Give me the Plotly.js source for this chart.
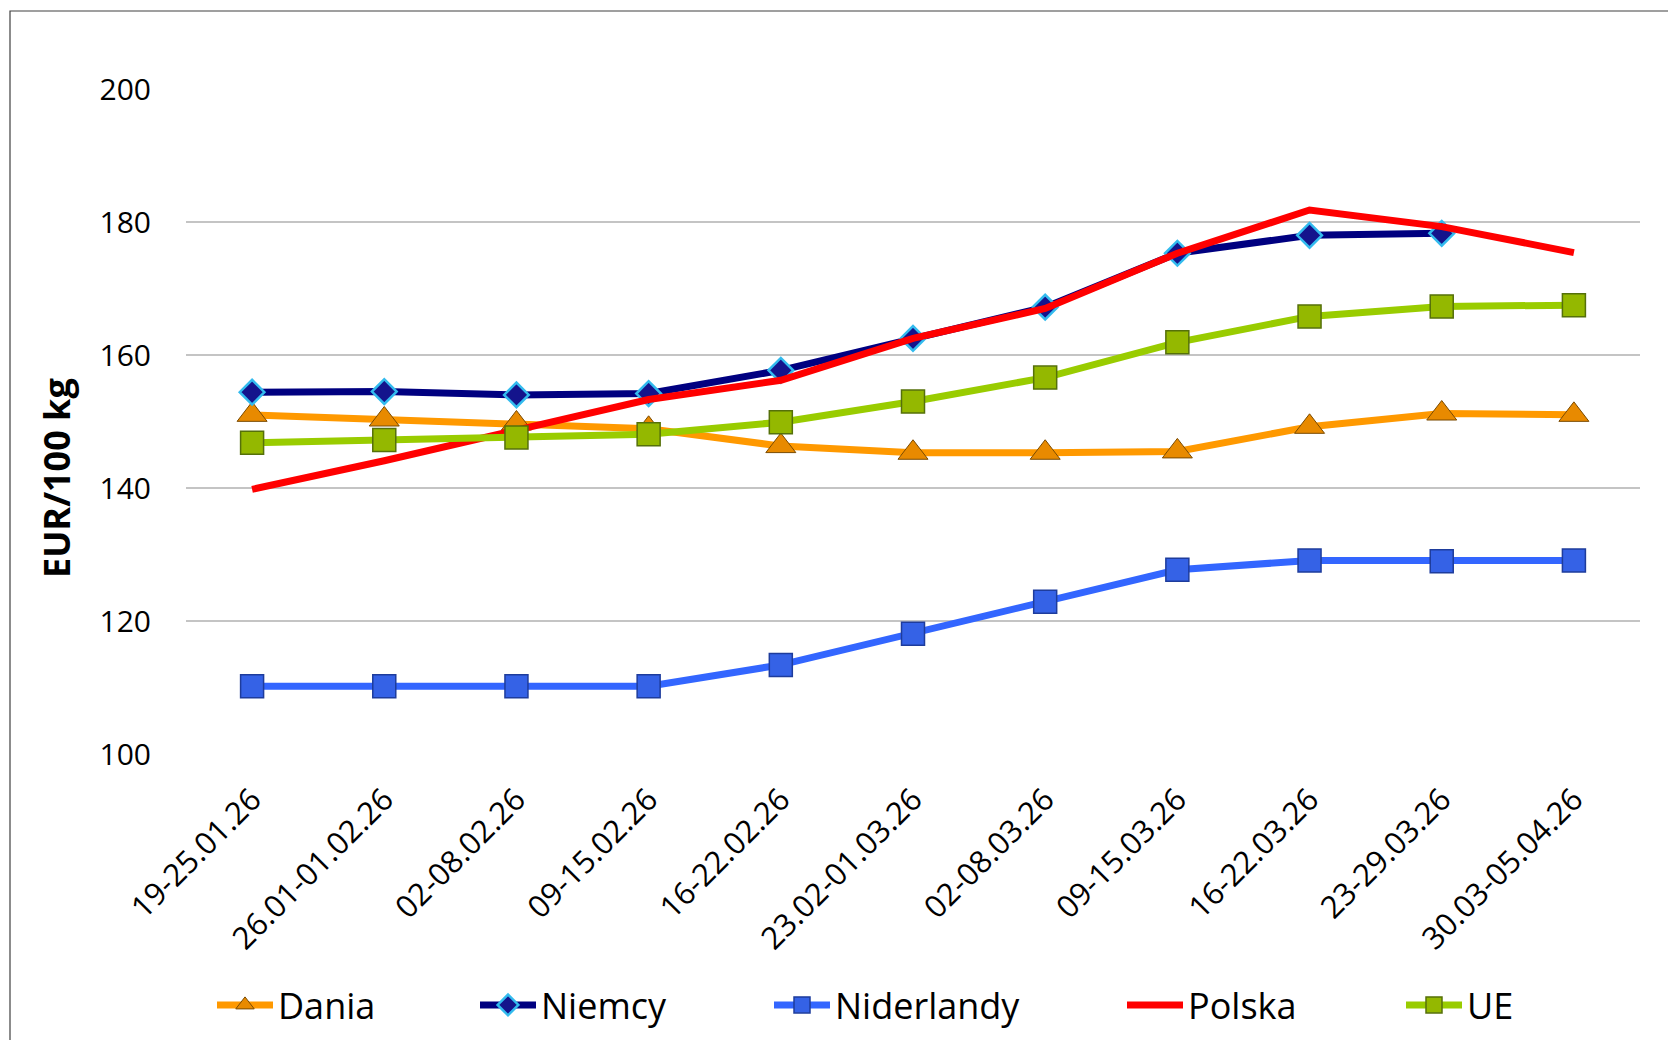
<!DOCTYPE html>
<html>
<head>
<meta charset="utf-8">
<script src="https://cdn.plot.ly/plotly-3.0.1.min.js"></script>
<style>
  html, body { margin: 0; padding: 0; background: #ffffff; }
  #chart { width: 1668px; height: 1040px; }
</style>
</head>
<body>
<div id="chart"></div>
<script>
const weeks = ["19-25.01.26", "26.01-01.02.26", "02-08.02.26", "09-15.02.26", "16-22.02.26",
               "23.02-01.03.26", "02-08.03.26", "09-15.03.26", "16-22.03.26", "23-29.03.26", "30.03-05.04.26"];
const dania      = [151.0, 150.3, 149.7, 148.9, 146.3, 145.3, 145.3, 145.5, 149.2, 151.2, 151.0];
const niemcy     = [154.4, 154.5, 154.0, 154.2, 157.7, 162.5, 167.2, 175.3, 178.0, 178.3, null];
const niderlandy = [110.2, 110.2, 110.2, 110.2, 113.4, 118.1, 122.9, 127.7, 129.1, 129.0, 129.1];
const polska     = [139.8, 144.1, 148.7, 153.3, 156.2, 162.5, 167.0, 175.3, 181.8, 179.3, 175.4];
const ue         = [146.8, 147.2, 147.6, 148.1, 149.9, 153.0, 156.6, 161.9, 165.8, 167.3, 167.5];
const yTicks = [100, 120, 140, 160, 180, 200];
const yTitle = "EUR/100 kg";

const FONT = "'Open Sans', 'Noto Sans', sans-serif";

const traces = [
  { name: "Dania", y: dania, legend: "legend",
    line: { color: "#FF9900", width: 7 },
    marker: { symbol: "triangle-up", size: 26, color: "#E88A00", line: { color: "#7A4A00", width: 1 } } },
  { name: "Niemcy", y: niemcy, legend: "legend2",
    line: { color: "#000080", width: 7 },
    marker: { symbol: "diamond", size: 19, color: "#14148C", line: { color: "#33BBEE", width: 2.5 } } },
  { name: "Niderlandy", y: niderlandy, legend: "legend3",
    line: { color: "#3366FF", width: 7 },
    marker: { symbol: "square", size: 23, color: "#3562E6", line: { color: "#1E3C9C", width: 1.5 } } },
  { name: "Polska", y: polska, legend: "legend4",
    line: { color: "#FF0000", width: 7 },
    marker: { size: 1, opacity: 0 }, mode: "lines" },
  { name: "UE", y: ue, legend: "legend5",
    line: { color: "#99CC00", width: 7 },
    marker: { symbol: "square", size: 23, color: "#94B800", line: { color: "#55700A", width: 1.5 } } }
].map(t => Object.assign({
  type: "scatter", mode: "lines+markers", x: weeks, connectgaps: false, hoverinfo: "skip"
}, t));

// pixel helpers for plot area: left 186, right 1640, top 89, bottom 754
const L = 186, R = 1640, T = 89, B = 754;
const px = v => (v - L) / (R - L);
const py = v => (B - v) / (B - T);

function leg(xpix) {
  return {
    orientation: "h", x: px(xpix), y: py(1005), xanchor: "left", yanchor: "middle",
    font: { family: FONT, size: 36, color: "#000000" },
    bgcolor: "rgba(0,0,0,0)", borderwidth: 0, itemwidth: 56, itemclick: false, itemdoubleclick: false
  };
}

const layout = {
  width: 1668, height: 1040,
  margin: { l: L, r: 1668 - R, t: T, b: 1040 - B, pad: 0, autoexpand: false },
  paper_bgcolor: "#ffffff", plot_bgcolor: "#ffffff",
  font: { family: FONT, color: "#000000" },
  showlegend: true,
  legend: leg(212),
  legend2: leg(475),
  legend3: leg(769),
  legend4: leg(1122),
  legend5: leg(1401),
  xaxis: {
    type: "category", range: [-0.5, 10.5], showgrid: false, zeroline: false, showline: false,
    ticks: "", tickangle: -45, tickfont: { family: FONT, size: 31, color: "#000000" },
    ticklabelstandoff: 20, fixedrange: true, automargin: false
  },
  yaxis: {
    range: [100, 200], tickvals: yTicks, ticktext: yTicks.map(String),
    showgrid: true, gridcolor: "#C4C4C4", gridwidth: 1.5, zeroline: false, showline: false,
    ticks: "", tickfont: { family: FONT, size: 30, color: "#000000" },
    ticklabelstandoff: 34, fixedrange: true, automargin: false
  },
  annotations: [{
    text: "<b>" + yTitle + "</b>", xref: "paper", yref: "paper",
    x: px(56), y: py(478), xanchor: "center", yanchor: "middle",
    textangle: -90, showarrow: false,
    font: { family: FONT, size: 36, color: "#000000" }
  }],
  shapes: [{
    type: "rect", xref: "paper", yref: "paper",
    x0: px(10), x1: px(1700), y0: py(1080), y1: py(11),
    line: { color: "#404040", width: 1.2 }, fillcolor: "rgba(0,0,0,0)", layer: "below"
  }]
};

Plotly.newPlot("chart", traces, layout, { staticPlot: true, displayModeBar: false });
</script>
</body>
</html>
